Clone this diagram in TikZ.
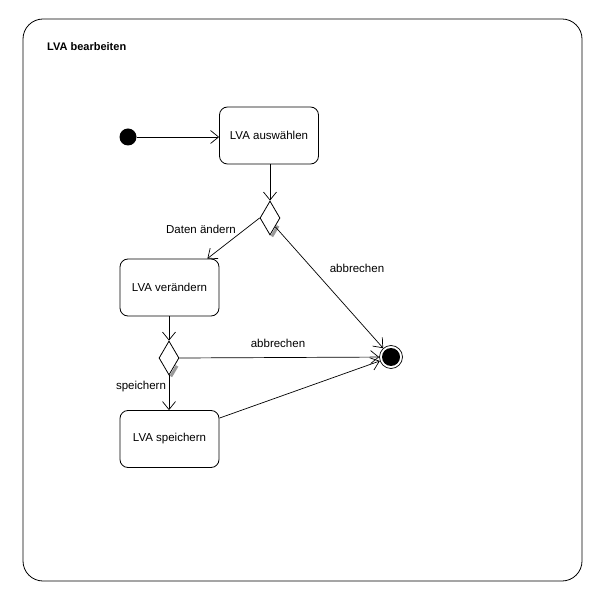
\documentclass[tikz,border=0pt]{standalone}
\usepackage{fontspec}
\setmainfont{Liberation Sans}
\usetikzlibrary{arrows.meta,shapes.geometric,calc}
\begin{document}
\begin{tikzpicture}[x=1pt,y=-1pt,
  every node/.style={font=\fontsize{11.5}{13}\selectfont},
  state/.style={draw, rounded corners=8pt, minimum width=99pt, minimum height=57pt, inner sep=0pt, line width=0.8pt},
  choice/.style={draw, diamond, minimum width=20pt, minimum height=34pt, inner sep=0pt, line width=0.8pt, fill=white},
  flow/.style={line width=0.7pt, -{Straight Barb[length=8pt,width=13pt]}},
  shade/.style={gray!80, line width=3pt},
  lbl/.style={inner sep=0pt}]
\useasboundingbox (0,0) rectangle (594,593);
\draw[line width=0.8pt, rounded corners=20pt] (23,19) rectangle (582,581);
\node[anchor=west, inner sep=0pt, font=\bfseries\fontsize{11}{13}\selectfont] (title) at (47,47) {LVA bearbeiten};
\node[circle, fill=black, minimum size=17pt, inner sep=0pt] (start) at (128,137) {};
\node[state] (b1) at (269,135.5) {LVA auswählen};
\node[choice] (d1) at (270,218) {};
\node[state] (b2) at (169.5,287.5) {LVA verändern};
\node[choice] (d2) at (169,358) {};
\node[state] (b3) at (169.5,439) {LVA speichern};
\node[circle, draw, line width=0.7pt, minimum size=23pt, inner sep=0pt] (fin) at (391,357) {};
\fill (fin.center) circle (9pt);
\draw[shade] ($(d1.east)!0.4!(d1.south)+(1.8,0.95)$) -- ($(d1.south)+(1.8,0.95)$);
\draw[shade] ($(d2.east)!0.4!(d2.south)+(1.8,0.95)$) -- ($(d2.south)+(1.8,0.95)$);
\draw[flow] (start) -- (start -| b1.west);
\draw[flow] (b1.south -| d1.north) -- (d1.north);
\draw[flow] (d1.west) -- ([xshift=-12pt]b2.north east);
\draw[flow] (d1.south east) -- (fin);
\draw[flow] (b2.south -| d2.north) -- (d2.north);
\draw[flow] (d2.east) -- (fin);
\draw[flow] (d2.south) -- (d2.south |- b3.north);
\draw[flow] ([yshift=-8pt]b3.north east) -- (fin);
\node[lbl] (l1) at (201,229) {Daten ändern};
\node[lbl] (l2) at (357,268) {abbrechen};
\node[lbl] (l3) at (278,343) {abbrechen};
\node[lbl] (l4) at (141,387) {speichern};
\end{tikzpicture}
\end{document}
